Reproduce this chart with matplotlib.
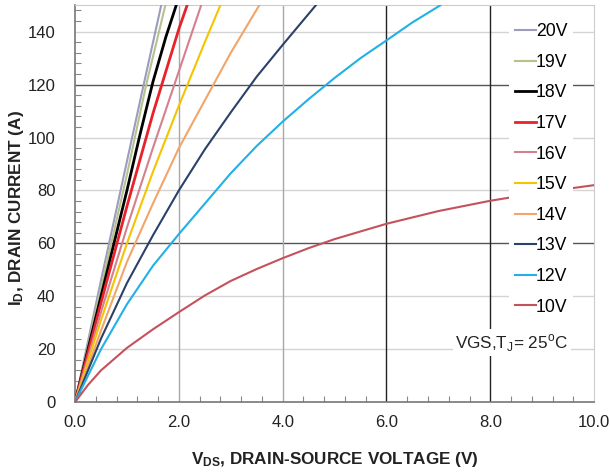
import numpy as np
import matplotlib.pyplot as plt

plt.rcParams['font.family'] = 'Liberation Sans'
plt.rcParams['mathtext.fontset'] = 'custom'
plt.rcParams['mathtext.rm'] = 'Liberation Sans'
plt.rcParams['mathtext.bf'] = 'Liberation Sans:bold'

# output curves, VDS (V) vs ID (A)
vgs_labels = ['20V', '19V', '18V', '17V', '16V', '15V', '14V', '13V', '12V', '10V']
vds_20 = [0, 0.5, 1.0, 1.3, 1.66]
id_20 = [0, 46, 91, 118, 150]
vds_19 = [0, 0.5, 1.0, 1.36, 1.74]
id_19 = [0, 43, 86, 119, 150]
vds_18 = [0, 0.5, 1.0, 1.25, 1.5, 1.75, 1.95]
id_18 = [0, 40, 80, 101, 121, 138, 150]
vds_17 = [0, 0.5, 1.0, 1.5, 1.75, 2.0, 2.16]
id_17 = [0, 37.5, 74, 109, 125, 141, 150]
vds_16 = [0, 0.5, 1.0, 1.5, 2.0, 2.43]
id_16 = [0, 34, 66, 96, 125, 150]
vds_15 = [0, 0.5, 1.0, 1.5, 2.0, 2.5, 2.8]
id_15 = [0, 31, 60, 87, 112, 136, 150]
vds_14 = [0, 0.5, 1.0, 1.5, 2.0, 2.5, 3.0, 3.55]
id_14 = [0, 27, 53, 75, 96, 114, 132, 150]
vds_13 = [0, 0.5, 1.0, 1.5, 2.0, 2.5, 3.0, 3.5, 4.0, 4.64]
id_13 = [0, 24, 45, 63, 80, 95.5, 109.5, 123, 135, 150]
vds_12 = [0, 0.5, 1.0, 1.5, 2.0, 2.5, 3.0, 3.5, 4.0, 4.5, 5.0, 5.5, 6.0, 6.5, 7.04]
id_12 = [0, 20, 37, 51.5, 63.5, 75, 86.5, 96.8, 106, 114.5, 122.5, 130, 136.7, 143.5, 150]
vds_10 = [0, 0.25, 0.5, 1.0, 1.5, 2.0, 2.5, 3.0, 3.5, 4.0, 4.5, 5.0, 6.0, 7.0, 8.0, 9.0, 10.0]
id_10 = [0, 6.5, 12, 20.5, 27.5, 34, 40.3, 45.8, 50.3, 54.4, 58.2, 61.6, 67.4, 72.2, 76.1, 79.3, 82]

curves = [(vds_20, id_20), (vds_19, id_19), (vds_18, id_18), (vds_17, id_17),
          (vds_16, id_16), (vds_15, id_15), (vds_14, id_14), (vds_13, id_13),
          (vds_12, id_12), (vds_10, id_10)]
colors = ['#9c9cbc', '#b6c28e', '#000000', '#e8222a', '#d4808e',
          '#f5c400', '#f2a56a', '#2b4168', '#22b0e6', '#c4525c']

fig = plt.figure(figsize=(6.1, 4.72), dpi=100)
ax = fig.add_axes([0.123, 0.148, 0.851, 0.841])

# grid lines, some darker than others
for y in [20, 40, 80, 100, 140]:
    ax.axhline(y, color='#d4d4d4', lw=1.0, zorder=0)
for y in [60, 120]:
    ax.axhline(y, color='#555555', lw=1.0, zorder=0)
for x in [2, 4]:
    ax.axvline(x, color='#a8a8a8', lw=1.0, zorder=0)
for x in [6, 8]:
    ax.axvline(x, color='#222222', lw=1.0, zorder=0)

for (vx, iy), lab, c in zip(curves, vgs_labels, colors):
    lw = 2.0 if lab in ('18V', '17V') else 1.5
    ax.plot(vx, iy, color=c, lw=lw, label=lab, zorder=3,
            solid_joinstyle='round')

ax.set_xlim(0, 10)
ax.set_ylim(0, 150)
ax.set_xticks(np.arange(0, 10.1, 2))
ax.set_xticklabels(['0.0', '2.0', '4.0', '6.0', '8.0', '10.0'])
ax.set_yticks(np.arange(0, 141, 20))
ax.set_xticks(np.arange(0, 10.01, 0.4), minor=True)
ax.set_yticks(np.arange(0, 150.1, 4), minor=True)
ax.tick_params(axis='both', which='major', length=0, labelsize=12,
               labelcolor='#222222')
ax.tick_params(axis='x', which='major', pad=9)
ax.tick_params(axis='y', which='major', pad=14)
ax.tick_params(axis='both', which='minor', direction='in', length=4,
               color='#888888', width=0.8)
ax.tick_params(axis='x', which='minor', top=False)
ax.tick_params(axis='y', which='minor', right=False)

for s in ['top', 'right']:
    ax.spines[s].set_color('#cccccc')
for s in ['left', 'bottom']:
    ax.spines[s].set_color('#777777')
    ax.spines[s].set_linewidth(1.2)

ax.set_xlabel(r'$\mathbf{V_{DS}}$, DRAIN-SOURCE VOLTAGE (V)', fontsize=12.3,
              fontweight='bold', color='#222222')
ax.xaxis.set_label_coords(0.5, -0.12)
ax.set_ylabel(r'$\mathbf{I_{D}}$, DRAIN CURRENT (A)', fontsize=12.3,
              fontweight='bold', color='#222222')
ax.yaxis.set_label_coords(-0.094, 0.49)

leg = ax.legend(loc='upper right', bbox_to_anchor=(0.976, 0.99), frameon=True,
                fontsize=12.7, handlelength=1.2, handletextpad=0.0,
                labelspacing=0.77, borderpad=0.3, fancybox=False)
leg.get_frame().set_edgecolor('none')
leg.get_frame().set_facecolor('white')
leg.get_frame().set_alpha(1)
leg.set_zorder(5)

ax.text(9.5, 22.4, r'VGS,T$_\mathregular{J}$= 25$^\mathregular{o}$C',
        fontsize=12.3, color='#222222', ha='right', va='center',
        bbox=dict(facecolor='white', edgecolor='none', pad=2), zorder=5)

fig.savefig('out.png', dpi=100)
